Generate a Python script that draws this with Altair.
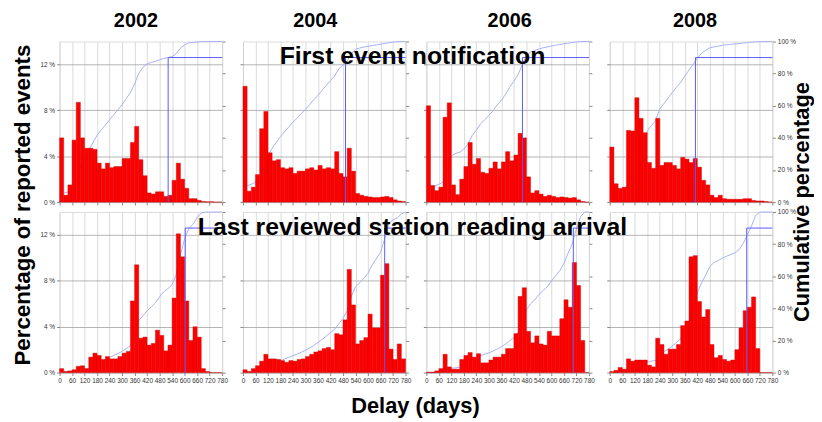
import altair as alt
import numpy as np
import pandas as pd

# ---------------- data ----------------
YEARS = ["2002", "2004", "2006", "2008"]
BIN_WIDTH = 20          # days per histogram bin
X_MAX = 780             # end of the delay axis (days)
P90_LEVEL = 90          # cumulative level marked by the blue rule lines

# percentage of reported events per 20-day bin (0-20, 20-40, ... 760-780)
FIRST_2002 = [5.6, 0.6, 1.5, 5.4, 8.7, 5.6, 4.7, 4.7, 4.6, 3.4, 2.9, 3.4, 3.0, 3.1, 3.1, 3.8, 3.8, 5.2,
              6.6, 3.7, 2.3, 0.8, 0.7, 0.9, 0.9, 0.5, 0.6, 1.9, 3.4, 2.0, 1.2, 0.3, 0.3, 0.15, 0.05,
              0.03, 0.03, 0.0, 0.0]
FIRST_2004 = [10.1, 0.95, 1.3, 2.4, 6.4, 7.9, 4.3, 3.6, 3.7, 3.0, 2.9, 3.0, 2.5, 2.7, 2.7, 2.9, 3.0, 2.8,
              3.2, 2.9, 3.0, 2.9, 4.4, 2.5, 2.2, 4.7, 2.7, 0.75, 0.6, 0.5, 0.45, 0.4, 0.4, 0.45, 0.5,
              0.4, 0.2, 0.1, 0.05]
FIRST_2006 = [8.4, 1.45, 1.0, 1.3, 7.4, 8.65, 1.5, 0.65, 2.0, 3.1, 5.2, 3.3, 3.8, 2.6, 2.5, 2.95, 3.5,
              2.9, 3.5, 4.4, 3.6, 4.1, 6.0, 5.6, 2.2, 0.8, 1.0, 0.7, 0.5, 0.6, 0.5, 0.4, 0.45, 0.4,
              0.35, 0.4, 0.2, 0.05, 0.0]
FIRST_2008 = [4.8, 1.6, 1.2, 1.3, 6.25, 6.2, 9.1, 7.3, 6.05, 3.45, 2.95, 7.3, 3.2, 3.45, 3.45, 3.2, 2.9,
              3.9, 3.75, 3.45, 3.8, 3.05, 1.9, 1.5, 0.6, 0.4, 0.6, 0.3, 0.25, 0.25, 0.25, 0.25, 0.3,
              0.3, 0.15, 0.1, 0.1, 0.05, 0.0]

LAST_2002 = [0.35, 0.1, 0.15, 0.25, 0.55, 0.6, 0.35, 1.35, 1.7, 1.5, 1.15, 1.4, 1.2, 1.2, 1.4, 1.7, 1.85,
             6.25, 9.4, 3.0, 3.1, 2.4, 2.55, 3.7, 3.25, 1.9, 2.4, 6.5, 12.1, 10.1, 6.25, 2.8, 4.0, 3.1,
             0.35, 0.1, 0.0, 0.0, 0.0]
LAST_2004 = [0.25, 0.1, 0.35, 0.6, 1.0, 1.6, 1.2, 1.2, 1.15, 1.05, 0.9, 1.05, 1.0, 1.15, 1.2, 1.4, 1.6,
             1.8, 1.9, 2.1, 2.2, 2.0, 3.4, 3.3, 4.6, 9.0, 5.9, 2.5, 2.8, 3.05, 5.1, 3.9, 3.9, 8.5, 9.5,
             2.05, 1.15, 2.5, 1.2]
LAST_2006 = [0.05, 0.05, 0.15, 0.35, 1.6, 0.5, 0.3, 0.3, 1.15, 1.5, 1.75, 1.35, 1.65, 0.85, 0.85, 1.1,
             1.35, 1.35, 1.6, 2.1, 2.1, 3.4, 6.65, 7.4, 3.6, 2.6, 3.2, 2.5, 2.4, 3.6, 3.2, 3.2, 4.7,
             6.35, 5.7, 9.6, 7.6, 2.8, 0.0]
LAST_2008 = [0.1, 0.2, 0.45, 0.3, 1.2, 1.0, 1.1, 1.1, 1.1, 0.65, 0.5, 3.0, 2.45, 1.6, 2.05, 2.05, 2.45,
             4.1, 4.5, 10.1, 10.2, 6.2, 4.85, 5.5, 2.45, 1.3, 1.5, 1.15, 1.0, 1.1, 2.0, 3.9, 5.4, 5.7,
             6.6, 2.1, 0.0, 0.0, 0.0]

FIRST = [FIRST_2002, FIRST_2004, FIRST_2006, FIRST_2008]
LAST = [LAST_2002, LAST_2004, LAST_2006, LAST_2008]

# delay (days) at which 90 % of events are reached
P90_FIRST = [521, 492, 461, 411]
P90_LAST = [603, 680, 705, 657]

X_TICKS = list(range(0, 781, 60))
PCT_TICKS = [0, 4, 8, 12]
CUM_TICKS = [0, 20, 40, 60, 80, 100]
PCT_MAX = 14

ROW_TITLES = ["First event notification", "Last reviewed station reading arrival"]
Y_TITLE = "Percentage of reported events"
Y2_TITLE = "Cumulative percentage"
X_TITLE = "Delay (days)"

# ---------------- styling ----------------
W, H = 164, 162
COL_GAP, ROW_GAP = 21, 10
FONT = "Liberation Sans"
RED = "#ff0000"
CUM_BLUE = "#a8b0f6"
P90_BLUE = "#5a5aff"

x_scale = alt.Scale(domain=[0, X_MAX], nice=False, zero=False)
pct_scale = alt.Scale(domain=[0, PCT_MAX], nice=False)
cum_scale = alt.Scale(domain=[0, 100], nice=False)


def text_layer(label, x, y, size, angle=0, baseline="alphabetic"):
    return alt.Chart(pd.DataFrame({"t": [label]})).mark_text(
        font=FONT, fontSize=size, fontWeight="bold", color="black",
        angle=angle, align="center", baseline=baseline
    ).encode(text="t:N", x=alt.value(x), y=alt.value(y))


def panel(values, p90, col, row, texts):
    starts = np.arange(len(values)) * BIN_WIDTH
    df = pd.DataFrame({"start": starts, "end": starts + BIN_WIDTH, "pct": values})
    base = alt.Chart(df)

    x_axis = alt.Axis(values=X_TICKS, labels=(row == 1), title=None, grid=True,
                      gridColor="#d2d2d2", gridWidth=0.8, ticks=True, tickSize=3,
                      tickColor="#888", labelFlush=False, labelFontSize=6.5,
                      labelColor="#333", labelFont=FONT, labelPadding=2, domain=False)

    cum = base.transform_window(
        csum="sum(pct)", sort=[alt.SortField("start", order="ascending")], frame=[None, 0]
    ).transform_joinaggregate(total="sum(pct)").transform_calculate(
        cum="datum.csum / datum.total * 100"
    ).mark_line(color=CUM_BLUE, strokeWidth=1).encode(
        x=alt.X("end:Q", scale=x_scale, axis=x_axis),
        y=alt.Y("cum:Q", scale=cum_scale,
                axis=alt.Axis(orient="right", values=CUM_TICKS, labels=(col == 3),
                              labelExpr="datum.value + ' %'", title=None, grid=False,
                              tickSize=3, tickColor="#888", domain=False, labelFontSize=6.5,
                              labelColor="#333", labelFont=FONT, labelPadding=2)),
    )

    bars = base.mark_rect(fill=RED, stroke="#c00000", strokeWidth=0.4).encode(
        x=alt.X("start:Q", scale=x_scale, axis=x_axis),
        x2="end:Q",
        y=alt.Y("pct:Q", scale=pct_scale,
                axis=alt.Axis(orient="left", values=PCT_TICKS, labels=(col == 0),
                              labelExpr="datum.value + ' %'", title=None, grid=True,
                              gridColor="#a2a2a2", gridWidth=0.8, tickSize=3,
                              tickColor="#888", domain=False, labelFontSize=6.5,
                              labelColor="#333", labelFont=FONT, labelPadding=2)),
        y2=alt.datum(0),
    )

    rdf = pd.DataFrame({"p90": [p90], "lo": [0], "hi": [P90_LEVEL], "xend": [X_MAX]})
    rules_v = alt.Chart(rdf).mark_rule(color=P90_BLUE, strokeWidth=1).encode(
        x=alt.X("p90:Q", scale=x_scale, axis=x_axis),
        y=alt.Y("lo:Q", scale=cum_scale, axis=None),
        y2="hi:Q",
    )
    rules_h = alt.Chart(rdf).mark_rule(color=P90_BLUE, strokeWidth=1).encode(
        x=alt.X("p90:Q", scale=x_scale, axis=x_axis),
        x2="xend:Q",
        y=alt.Y("hi:Q", scale=cum_scale, axis=None),
    )

    layers = [cum, bars, rules_v, rules_h] + texts
    return alt.layer(*layers).resolve_scale(y="independent").properties(width=W, height=H)


YEAR_DX = [-5, -9, 2, 4]

panels = []
for c in range(4):
    t_texts = [text_layer(YEARS[c], W / 2 + YEAR_DX[c], -15, 20)]
    if c == 2:
        t_texts.append(text_layer(ROW_TITLES[0], 415 - 429, 23, 25))
    panels.append(panel(FIRST[c], P90_FIRST[c], c, 0, t_texts))

for c in range(4):
    b_texts = []
    if c == 0:
        b_texts.append(text_layer(Y_TITLE, -37, -7, 22.5, angle=270, baseline="middle"))
    if c == 2:
        b_texts.append(text_layer(X_TITLE, 418 - 429, 203, 22))
    if c == 3:
        b_texts.append(text_layer(ROW_TITLES[1], 415 - 614, 23, 25))
        b_texts.append(text_layer(Y2_TITLE, 194, -10, 22, angle=270, baseline="middle"))
    panels.append(panel(LAST[c], P90_LAST[c], c, 1, b_texts))

chart = alt.concat(
    *panels, columns=4,
    spacing={"row": ROW_GAP, "column": COL_GAP}, bounds="flush",
).properties(
    padding={"left": 3, "top": 0, "right": 0, "bottom": 0}
).configure_view(
    stroke="#8a8a8a", strokeWidth=1
).configure(background="white")

chart.save("out.html", embed_options={"renderer": "svg", "actions": False})
